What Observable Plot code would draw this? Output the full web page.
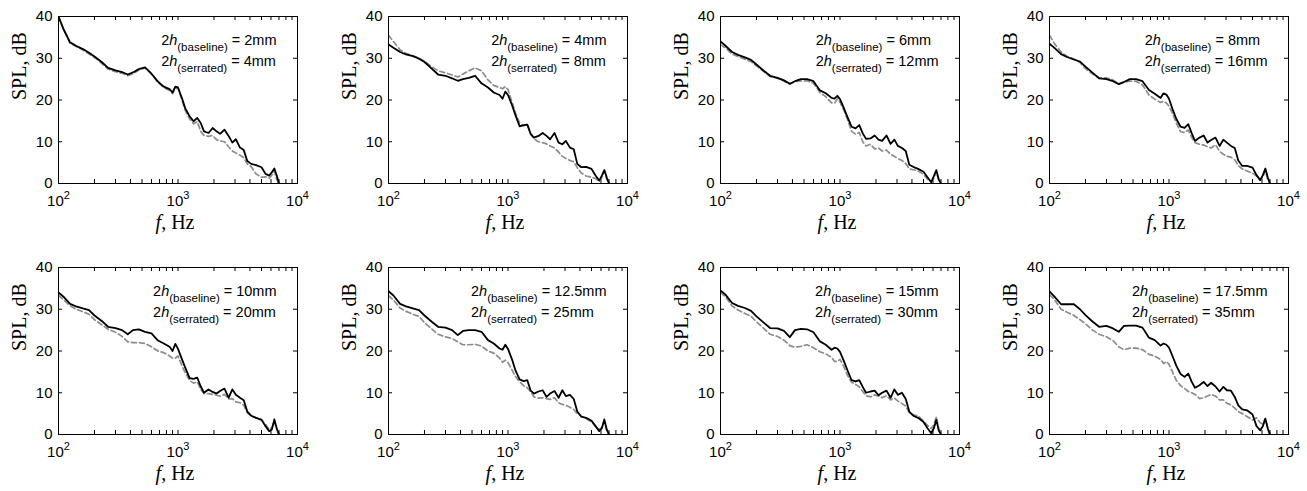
<!DOCTYPE html>
<html><head><meta charset="utf-8">
<script src="https://cdn.jsdelivr.net/npm/d3@7"></script>
<script src="https://cdn.jsdelivr.net/npm/@observablehq/plot@0.6"></script>
<style>
body{margin:0;background:#fff;}
#fig{position:relative;width:1307px;height:491px;overflow:hidden;background:#fff;}
.panel{position:absolute;width:316px;height:239px;}
</style></head><body><div id="fig"></div>
<script>
// Frequencies (Hz) at which all curves were read
const freq = [100,110,125,140,160,180,200,230,260,300,340,380,420,470,530,600,680,760,850,900,950,1000,1080,1150,1250,1350,1450,1550,1650,1800,1950,2100,2250,2450,2650,2850,3050,3300,3550,3800,4100,4500,5000,5400,5800,6100,6400,6700,7000];

// SPL (dB) — baseline (black solid)
const baseline1 = [40,37,33.8,33,32.2,31.3,30.4,29.1,27.7,27.1,26.7,26.1,26.6,27.4,27.8,26.3,24.4,23.2,22.6,21.8,23.2,23,20.4,18,16.1,14.9,15.7,14.5,12.5,12.1,13.3,12.5,11.9,12.9,11.4,9.8,10.6,8.6,8,5.4,4.7,4.4,3.9,2.3,1.9,2.7,3.6,1.9,0];
const baseline2 = [33.3,32.5,31.5,30.9,30.5,29.9,29.1,27.5,26.1,25.8,25.2,24.6,25,25.3,25.8,24,23,21.8,21.2,20.3,22,21.2,18.8,16.5,13.7,14,14.1,11.8,11,11.4,12.1,11.4,10.6,12.1,9.8,9.4,10.2,8.6,8.2,4.7,3.9,4,3.5,1.9,0.7,1.9,3.2,1.5,0];
const baseline3 = [34,33,31.5,30.8,30.2,29.6,28.5,27,25.8,25.3,24.7,23.9,24.5,25,25,24.5,22.3,21.6,20.5,20.3,21,20.2,18,16,13.6,13.2,14,12,10.7,10.8,11.5,10.5,10.2,11.5,9.5,10.5,9,8.5,7.8,4.5,4,3.5,2.8,1.5,0.3,1.8,3.2,1,0];
const baseline4 = [33.5,32.5,31,30.3,29.7,29.2,28,26.5,25.2,25,24.5,23.8,24.3,25,25,24.5,22.4,21.5,20.5,21.6,21.3,20.3,17.5,15.5,13.6,13.3,14.2,12,10.2,11,11.5,9.8,10.4,11,9,10.5,9.8,9,8.5,5.5,4.2,4.2,3.8,2,0.8,2,3.6,1.5,0];
const baseline5 = [34,33,31.3,30.7,30.2,29.8,28.5,27.2,25.8,25.5,25,24,25,25.2,24.6,24.2,22.5,21.8,21,20,21.7,20.5,18,16,13.5,13.3,13.6,11.5,10,10.8,10.2,9.8,10.4,11,8.8,10.8,9.5,8.8,8.2,5.5,4.5,4,3.5,2,0.8,1.2,3.6,1.5,0];
const baseline6 = [34.3,33.3,31.3,30.7,30.2,29.8,28.5,27,25.8,25.6,25,23.8,24.8,25,25,24.6,22.6,21.8,20.6,20.3,21.5,20.5,18,15.5,13.2,12.8,13,10.5,9.8,10.3,10.6,9,9.8,10.4,8.8,10.6,9.2,9.5,8.5,5.5,4.3,4,3.3,2,0.8,1.5,3.6,1.2,0];
const baseline7 = [34.5,33.5,31.5,30.8,30.3,29.6,28.3,26.8,25.5,25.4,24.8,23.3,25,25.3,25.2,24.5,22.3,21.5,20.3,20.8,20.6,19.8,17.5,15.5,13,12.7,13,11.4,10,10.3,10.5,9.4,10,10.5,8.8,10.8,9.5,10,8.5,5.5,4.5,4,3,1.5,0.3,1.5,3.5,1,0];
const baseline8 = [34.3,33,31.2,31.2,31.2,30,28.6,27,25.8,26,25.4,24.6,26,26.1,26.1,25.6,23.2,22.6,21.3,21.8,21.5,20.8,18.5,16.5,14.5,13.8,14.6,12.6,11.2,11.8,12.6,11.6,12.4,11.5,10.3,11.4,10.6,10.5,9,7,6,5.8,4.8,2,1,2,3.8,1.5,0];

// SPL (dB) — serrated (grey dashed)
const serrated1 = [40,37,33.6,32.8,32,31,30.2,28.8,27.4,26.8,26.4,25.8,26.3,27.2,27.7,26.2,24.2,23,22.3,21.5,22.8,22.8,20,17.5,15.5,14.3,14.8,12.5,11.5,11.3,11.5,10.5,10.2,10,8.8,7.8,7.3,6.8,6.2,4.7,4,2.3,1.5,1.6,1.3,2,3,1,0];
const serrated2 = [35.5,34,32,31.2,30.6,30,29.3,28,27,26.5,26,25.5,26.2,27,27.7,27,24.8,23.5,23,22.7,23.2,22.5,19.5,17,14.5,13.8,14.3,12,10.7,10,9.8,9.5,9,8.5,7.5,6.5,6,5.5,5.2,3.8,2.5,1.8,1.5,1.2,0.5,1.5,3,1,0];
const serrated3 = [33.2,32.5,31,30.4,29.8,29.2,28.2,26.8,25.6,25.2,24.5,23.8,24.4,24.6,24.6,24,21.8,20.8,19.3,19.2,20.3,19.5,17.5,15.5,12.5,11.8,12.2,10,9,9.4,8.3,8.5,7.8,8,7,6.5,6,5.5,4.8,3.5,3.3,3,2.2,1,0.5,1.2,2.8,0.8,0];
const serrated4 = [35.5,33.5,31.5,30.5,29.8,29,27.5,26.2,25.3,25.3,24.8,23.9,24.3,24.5,24.5,23.6,21.2,20.2,19.4,19.7,19.3,18.5,16.5,14.5,12.4,12.2,12.8,11,9.8,9.4,9.2,8.8,8.5,9.3,7.7,7,6.5,6.3,5.7,4.3,3.5,3,2.5,1.8,0.8,1.6,3,1,0];
const serrated5 = [33.3,32.3,30.8,30,29.4,28.8,27.5,26.3,25.2,24.5,23.5,22.2,22,22,21.8,21,20,19.6,18.8,18.3,18.3,18.8,16.5,14.8,13,12.3,12.6,10.8,9.8,9.8,9.6,9.4,9.2,9.6,8.5,8.6,7.8,7.6,7,5.2,4.4,4,3.6,2.4,1.2,1.6,3.2,1.2,0];
const serrated6 = [33.3,32.2,30.3,29.5,28.8,28.3,26.8,25.3,24,23.4,23,22.2,21.5,21.5,21.6,21.2,20,19.5,18.3,17.3,17.8,17.2,15.5,14,12.6,11.7,11.2,10.2,9,8.7,8.8,8.6,8.4,8.8,7.6,7.2,7,6.5,6,5,4.4,3.8,3,2,1.2,1.7,3.2,1,0];
const serrated7 = [34,33,30.8,29.8,29,28.3,27,25.4,24,23.5,22.6,21.3,20.9,21.1,21.5,20.8,19.8,19.3,18.5,17.5,17.5,18,16.2,14.3,12.5,12,11.4,10.3,9.3,9,9.5,9.2,8.8,9.3,8.3,8.7,8,7.4,6.8,5.2,4.7,4.5,3.2,2.2,1.4,2.4,4.2,1.5,0];
const serrated8 = [33.5,32.3,30,29.3,28.5,27.5,26.5,25,24,23.4,22.5,21,20.3,20.7,20.7,20.3,19.2,18.8,18,17,17.5,16.8,14.7,13,11.7,11,10.3,10,9.6,8.6,8.8,9.2,9.6,9.2,8.3,8.3,7.5,7.1,6.3,5.5,5,4.3,3.5,4,2.8,2.5,3.8,1.5,0];

// Panel annotations (2h values)
const hBaseline = ["2mm","4mm","6mm","8mm","10mm","12.5mm","15mm","17.5mm"];
const hSerrated = ["4mm","8mm","12mm","16mm","20mm","25mm","30mm","35mm"];

// Axis ticks & labels
const yTicks = [0,10,20,30,40];
const xMajor = [100,1000,10000];
const xTickLabels = ["10^2","10^3","10^4"];
const xMinor = [200,300,400,500,600,700,800,900,2000,3000,4000,5000,6000,7000,8000,9000];
const xLabel = "f, Hz";
const yLabel = "SPL, dB";

const baselines = [baseline1,baseline2,baseline3,baseline4,baseline5,baseline6,baseline7,baseline8];
const serrateds = [serrated1,serrated2,serrated3,serrated4,serrated5,serrated6,serrated7,serrated8];

// layout
const colLeft = [0,330,662,991];
const rowTop = [0,251];
const W = 316, H = 239, mL = 58, mR = 19, mT = 16, mB = 56;
const fw = W - mL - mR, fh = H - mT - mB;
const SANS = "'Liberation Sans', Arial, sans-serif";
const SERIF = "'Liberation Serif', 'Times New Roman', serif";
const M = 14.5, S = 11.5;

const ctx = document.createElement("canvas").getContext("2d");
function tw(str, size, style = "") { ctx.font = `${style} ${size}px 'Liberation Sans'`; return ctx.measureText(str).width; }
function annWidth(tag, val) { return tw("2", M) + tw("h", M, "italic") + tw(`(${tag})`, S) + tw(` = ${val}`, M); }

const NS = "http://www.w3.org/2000/svg";
function tspan(txt, attrs) {
  const t = document.createElementNS(NS, "tspan");
  for (const k in attrs) t.setAttribute(k, attrs[k]);
  t.textContent = txt;
  return t;
}
function richText(svg) {
  svg.querySelectorAll("text").forEach(t => {
    if (t.querySelector("tspan")) return;
    const s = t.textContent;
    let m;
    if ((m = s.match(/^10\^(\d)$/))) {
      t.textContent = "10";
      t.appendChild(tspan(m[1], {dy: "-7", "font-size": "11px"}));
    } else if ((m = s.match(/^2h\((\w+)\) = (.+)$/))) {
      t.textContent = "2";
      t.appendChild(tspan("h", {"font-style": "italic"}));
      t.appendChild(tspan("(" + m[1] + ")", {dy: "6", "font-size": S + "px"}));
      t.appendChild(tspan(" = " + m[2], {dy: "-6", "font-size": M + "px"}));
    } else if (s === xLabel) {
      t.textContent = "";
      t.appendChild(tspan("f", {"font-style": "italic"}));
      t.appendChild(tspan(", Hz", {}));
    }
  });
}

const fig = document.getElementById("fig");
for (let p = 0; p < 8; ++p) {
  const rowsB = freq.map((f, i) => ({f, spl: baselines[p][i]}));
  const rowsS = freq.map((f, i) => ({f, spl: serrateds[p][i]}));
  const line1 = `2h(baseline) = ${hBaseline[p]}`;
  const line2 = `2h(serrated) = ${hSerrated[p]}`;
  const bw = Math.max(annWidth("baseline", hBaseline[p]), annWidth("serrated", hSerrated[p]));
  const plot = Plot.plot({
    width: W, height: H, marginLeft: mL, marginRight: mR, marginTop: mT, marginBottom: mB,
    style: {fontFamily: SANS, fontSize: "15px", color: "#000", background: "transparent", overflow: "visible"},
    x: {type: "log", domain: [100, 10000]},
    y: {domain: [0, 40]},
    marks: [
      Plot.axisY(yTicks, {tickSize: 0, tickPadding: 6, label: null, fontSize: 15}),
      Plot.axisX(xMajor, {tickSize: 0, tickPadding: 12, label: null, fontSize: 15,
        tickFormat: d => xTickLabels[xMajor.indexOf(d)]}),
      Plot.tickY(yTicks, {y: d => d, insetRight: fw - 4, stroke: "#000"}),
      Plot.tickY(yTicks, {y: d => d, insetLeft: fw - 4, stroke: "#000"}),
      Plot.tickX(xMinor.concat(xMajor), {x: d => d, insetTop: fh - 4, stroke: "#000"}),
      Plot.tickX(xMinor.concat(xMajor), {x: d => d, insetBottom: fh - 4, stroke: "#000"}),
      Plot.line(rowsS, {x: "f", y: "spl", stroke: "#8c8c8c", strokeWidth: 1.7, strokeDasharray: "5,3", clip: true}),
      Plot.line(rowsB, {x: "f", y: "spl", stroke: "#000", strokeWidth: 1.8, clip: true}),
      Plot.frame({stroke: "#000", strokeWidth: 1}),
      Plot.text([line1], {text: d => d, frameAnchor: "top-right", textAnchor: "start", lineAnchor: "bottom", dx: -(21 + bw), dy: 28, fontSize: M, fill: "#000"}),
      Plot.text([line2], {text: d => d, frameAnchor: "top-right", textAnchor: "start", lineAnchor: "bottom", dx: -(21 + bw), dy: 49, fontSize: M, fill: "#000"}),
      Plot.text([yLabel], {text: d => d, frameAnchor: "left", rotate: -90, dx: -39, fontFamily: SERIF, fontSize: 20, fill: "#000"}),
      Plot.text([xLabel], {text: d => d, frameAnchor: "bottom", lineAnchor: "bottom", dx: -3, dy: 45, fontFamily: SERIF, fontSize: 20, fill: "#000"})
    ]
  });
  richText(plot);
  const div = document.createElement("div");
  div.className = "panel";
  div.style.left = colLeft[p % 4] + "px";
  div.style.top = rowTop[Math.floor(p / 4)] + "px";
  div.appendChild(plot);
  fig.appendChild(div);
}
</script></body></html>
